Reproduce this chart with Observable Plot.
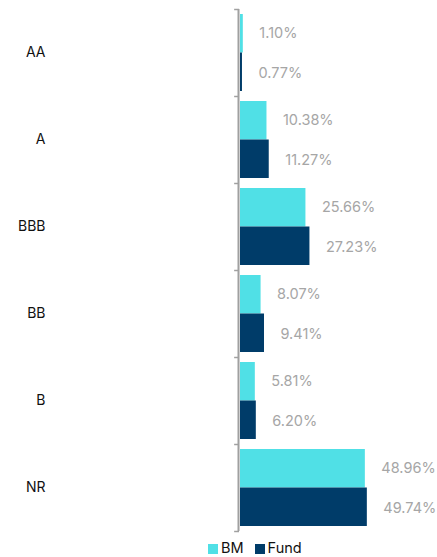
<!DOCTYPE html>
<html>
<head>
<meta charset="utf-8">
<script src="https://cdn.jsdelivr.net/npm/d3@7"></script>
<script src="https://cdn.jsdelivr.net/npm/@observablehq/plot@0.6"></script>
<style>
  body { margin: 0; background: #fff; font-family: Inter, "Noto Sans", sans-serif; }
  #legend { display: flex; align-items: center; gap: 11px; padding-left: 208px; height: 20px; font-size: 14.5px; color: #111; }
  #legend span.sw { display: inline-block; width: 10px; height: 10px; margin-right: 3px; vertical-align: -1px; }
</style>
</head>
<body>
<div id="chart"></div>
<div id="legend"></div>
<script>
const categories = ["AA", "A", "BBB", "BB", "B", "NR"];
const bmValues = [1.10, 10.38, 25.66, 8.07, 5.81, 48.96];
const fundValues = [0.77, 11.27, 27.23, 9.41, 6.20, 49.74];
const seriesNames = ["BM", "Fund"];
const seriesColors = ["#50e0e6", "#003c69"];

const bm = categories.map((c, i) => ({cat: c, v: bmValues[i]}));
const fund = categories.map((c, i) => ({cat: c, v: fundValues[i]}));

const height = 537, marginTop = 9, marginBottom = 6;
const step = (height - marginTop - marginBottom) / categories.length;
const half = step / 2;
const fmt = v => v.toFixed(2) + "%";

const plot = Plot.plot({
  width: 437,
  height,
  marginTop,
  marginBottom,
  marginLeft: 240,
  marginRight: 44,
  style: {fontFamily: "Inter, 'Noto Sans', sans-serif", fontSize: "14px", color: "#111"},
  x: {domain: [0, 60], axis: null},
  y: {domain: categories, padding: 0, label: null, tickSize: 0, tickPadding: 195},
  marks: [
    Plot.barX(bm, {y: "cat", x: "v", fill: seriesColors[0], insetTop: 5, insetBottom: half}),
    Plot.barX(fund, {y: "cat", x: "v", fill: seriesColors[1], insetTop: half, insetBottom: 5}),
    Plot.text(bm, {y: "cat", x: "v", text: d => fmt(d.v), dx: 16, dy: -20, textAnchor: "start", fill: "#a6a6a6", fontSize: 14.5}),
    Plot.text(fund, {y: "cat", x: "v", text: d => fmt(d.v), dx: 16, dy: 20, textAnchor: "start", fill: "#a6a6a6", fontSize: 14.5}),
    Plot.ruleX([0], {stroke: "#a0a0a0", strokeWidth: 2, dx: -2}),
    Plot.ruleY(categories, {y: d => d, x1: -2.3, x2: -0.4, dy: -half, stroke: "#a0a0a0", strokeWidth: 1.5}),
    Plot.ruleY([categories[categories.length - 1]], {y: d => d, x1: -2.3, x2: -0.4, dy: half, stroke: "#a0a0a0", strokeWidth: 1.5})
  ]
});
document.getElementById("chart").appendChild(plot);

const legend = document.getElementById("legend");
seriesNames.forEach((n, i) => {
  const item = document.createElement("div");
  item.innerHTML = `<span class="sw" style="background:${seriesColors[i]}"></span>${n}`;
  legend.appendChild(item);
});
</script>
</body>
</html>
